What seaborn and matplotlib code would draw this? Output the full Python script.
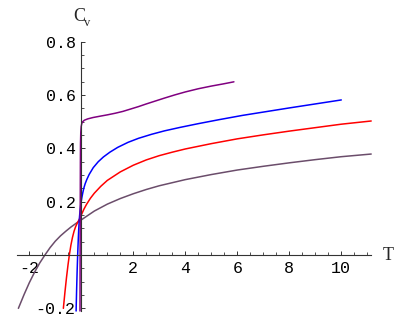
import numpy as np
import pandas as pd
import seaborn as sns
import matplotlib
matplotlib.use("Agg")
import matplotlib.pyplot as plt
from matplotlib.ticker import FixedLocator, FixedFormatter

# ---- data ----
gray_T = [-2.42, -2.2, -2.0, -1.8, -1.6, -1.4, -1.2, -1.0, -0.8, -0.6, -0.4, -0.2, 0.0,
          0.5, 1.0, 1.5, 2.0, 2.5, 3.0, 4.0, 5.0, 6.0, 7.0, 8.0, 9.0, 10.0, 11.15]
gray_Cv = [-0.200, -0.148, -0.104, -0.065, -0.030, 0.0, 0.028, 0.052, 0.072, 0.089, 0.105,
           0.119, 0.132, 0.165, 0.191, 0.212, 0.230, 0.246, 0.260, 0.283, 0.302, 0.319,
           0.333, 0.346, 0.358, 0.369, 0.379]

red_T = [-0.69, -0.63, -0.57, -0.51, -0.46, -0.40, -0.34, -0.28, -0.22, -0.16, -0.10,
         -0.04, 0.0, 0.1, 0.2, 0.35, 0.5, 0.75, 1.0, 1.5, 2.0, 2.5, 3.0, 3.5, 4.0, 5.0,
         6.0, 7.0, 8.0, 9.0, 10.0, 11.15]
red_Cv = [-0.200, -0.140, -0.085, -0.036, 0.0, 0.037, 0.066, 0.089, 0.106, 0.119, 0.130,
          0.141, 0.150, 0.172, 0.190, 0.213, 0.232, 0.258, 0.280, 0.312, 0.337, 0.357,
          0.373, 0.386, 0.398, 0.418, 0.436, 0.451, 0.465, 0.478, 0.491, 0.503]

blue_T = [-0.20, -0.18, -0.16, -0.14, -0.12, -0.10, -0.08, -0.05, -0.02, 0.02, 0.06, 0.1,
          0.15, 0.21, 0.3, 0.46, 0.65, 0.85, 1.1, 1.4, 1.8, 2.2, 2.7, 3.2, 3.8, 4.5, 5.3,
          6.2, 7.1, 8.0, 9.0, 10.0]
blue_Cv = [-0.21, -0.13, -0.06, 0.0, 0.05, 0.095, 0.13, 0.165, 0.19, 0.215, 0.235, 0.252,
           0.268, 0.283, 0.302, 0.328, 0.350, 0.368, 0.386, 0.404, 0.423, 0.438, 0.453,
           0.466, 0.479, 0.493, 0.508, 0.524, 0.538, 0.552, 0.567, 0.582]

purple_T = [-0.05, -0.045, -0.04, -0.035, -0.03, -0.02, -0.005, 0.02, 0.06, 0.12, 0.25,
            0.45, 0.72, 1.0, 1.3, 1.6, 1.9, 2.2, 2.5, 2.85, 3.2, 3.6, 4.0, 4.5, 5.0, 5.45,
            5.87]
purple_Cv = [-0.21, 0.0, 0.2, 0.35, 0.42, 0.46, 0.482, 0.494, 0.501, 0.506, 0.511, 0.516,
             0.521, 0.526, 0.532, 0.539, 0.548, 0.557, 0.567, 0.578, 0.589, 0.601, 0.612,
             0.624, 0.634, 0.642, 0.650]

x_ticks = [-2, 2, 4, 6, 8, 10]
x_tick_labels = ["-2", "2", "4", "6", "8", "10"]
y_ticks = [-0.2, 0.2, 0.4, 0.6, 0.8]
y_tick_labels = ["-0.2", "0.2", "0.4", "0.6", "0.8"]

sns.set_style("white")
plt.rcParams["font.family"] = ["Liberation Mono", "DejaVu Sans Mono"]

fig = plt.figure(figsize=(4.16, 3.19), dpi=100)
ax = fig.add_axes([0, 0, 1, 1])

series = [
    (gray_T, gray_Cv, "#6b4d6b"),
    (red_T, red_Cv, "#ff0000"),
    (blue_T, blue_Cv, "#0000ff"),
    (purple_T, purple_Cv, "#800080"),
]
for T, Cv, col in series:
    df = pd.DataFrame({"T": T, "Cv": Cv})
    sns.lineplot(data=df, x="T", y="Cv", color=col, lw=1.1, sort=False,
                 estimator=None, ax=ax)

ax.set_xlim(-3.127, 12.873)
ax.set_ylim(-0.240, 0.957)

for s in ["top", "right"]:
    ax.spines[s].set_visible(False)
ax.spines["left"].set_position(("data", 0))
ax.spines["bottom"].set_position(("data", 0))
ax.spines["left"].set_bounds(-0.21, 0.8)
ax.spines["bottom"].set_bounds(-2.46, 11.15)
for s in ["left", "bottom"]:
    ax.spines[s].set_color("#333333")
    ax.spines[s].set_linewidth(0.8)

ax.xaxis.set_major_locator(FixedLocator(x_ticks))
ax.xaxis.set_major_formatter(FixedFormatter(x_tick_labels))
ax.yaxis.set_major_locator(FixedLocator(y_ticks))
ax.yaxis.set_major_formatter(FixedFormatter(y_tick_labels))
ax.xaxis.set_minor_locator(FixedLocator([v for v in np.arange(-2.0, 11.01, 0.5)]))
ax.yaxis.set_minor_locator(FixedLocator([v for v in np.arange(-0.2, 0.801, 0.05)]))

ax.tick_params(axis="both", which="major", direction="in", length=3, width=0.7,
               color="#333333", labelsize=12, labelcolor="black")
ax.tick_params(axis="both", which="minor", direction="in", length=2, width=0.6,
               color="#333333")
ax.tick_params(axis="x", which="major", pad=4)
ax.tick_params(axis="y", which="major", pad=4)
ax.tick_params(bottom=True, left=True, which="both")

ax.set_xlabel("")
ax.set_ylabel("")
serif = ["Liberation Serif", "DejaVu Serif"]
ax.text(11.6, 0.0, "T", fontsize=13, va="center", ha="left", family=serif)
ax.text(-0.3, 0.895, "C", fontsize=13, va="center", ha="left", family=serif)
ax.text(0.12, 0.872, "v", fontsize=9, va="center", ha="left", family=serif)

fig.savefig("out.png", dpi=100)
